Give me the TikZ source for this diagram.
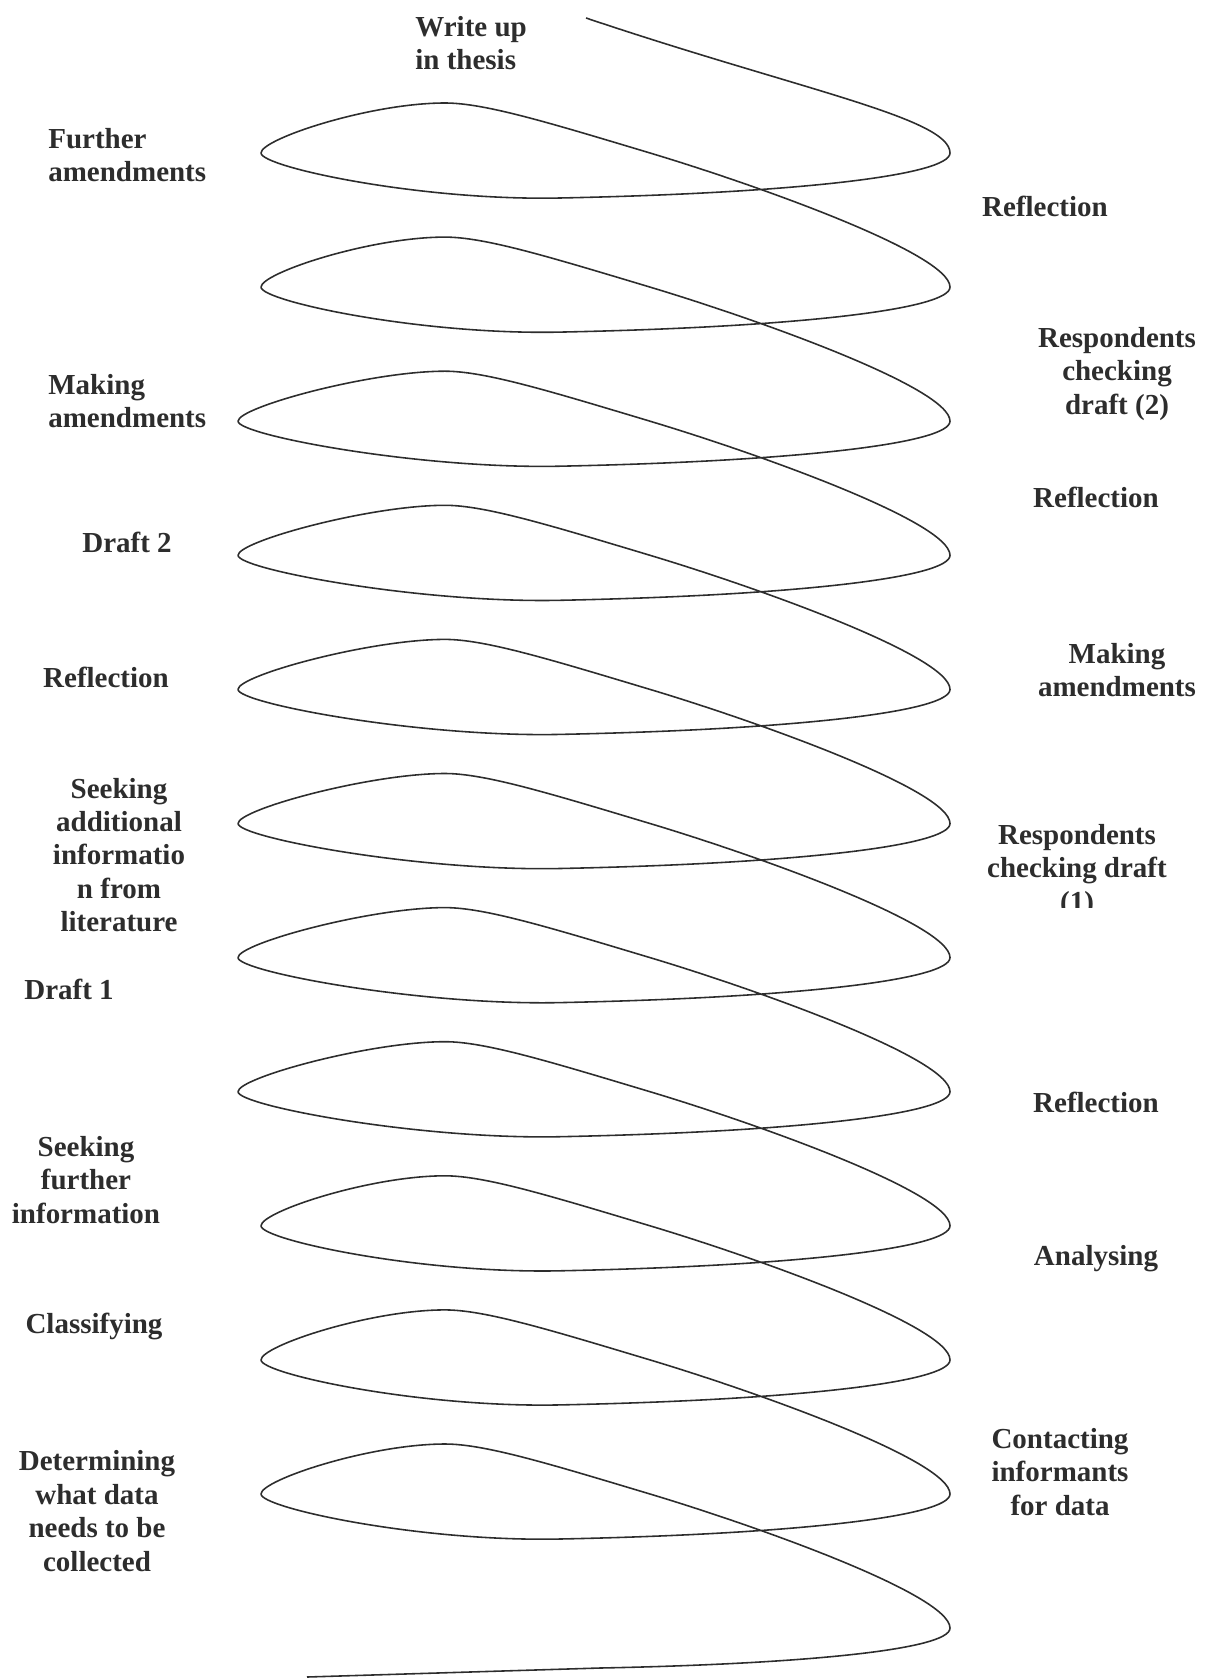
\documentclass[tikz,border=0pt]{standalone}
\usepackage{fontspec}
\setmainfont{Liberation Serif}
\usepackage{xcolor}
\usepackage{tikz}
\definecolor{inkgrey}{RGB}{45, 45, 45}

\begin{document}
\begin{tikzpicture}[
    x=0.02cm, y=-0.02cm,
    stage/.style={font=\fontsize{16.5}{19}\selectfont\bfseries, text=inkgrey, inner sep=0pt, align=center},
    stageleft/.style={stage, align=left, anchor=west},
    coil/.style={draw=inkgrey, line width=0.9pt, line join=round}
]
    \useasboundingbox (0,0) rectangle (1211,1679);

    % Coil
    \draw[coil] (586,18) .. controls (800,90) and (950,118) .. (950,153)
      \foreach \y/\l in {153/261, 287.1/261, 421.2/238, 555.3/238, 689.4/238, 823.5/238,
                         957.6/238, 1091.7/238, 1225.8/261, 1359.9/261, 1494/261} {
        .. controls (950,\y+22) and (800,\y+40) .. (560,\y+45)
        .. controls (420,\y+48) and (\l,\y+14) .. (\l,\y)
        .. controls (\l,\y-14) and (370,\y-50) .. (445,\y-50)
        .. controls (485,\y-50) and (550,\y-30) .. (650,\y)
        .. controls (750,\y+30) and (950,\y+100) .. (950,\y+134.1)
      }
      .. controls (950,1650) and (800,1664) .. (600,1668) -- (307,1677);

    % Stages, left side
    \node[stageleft] (wup) at (415,43) {Write up\\in thesis};
    \node[stageleft] (lf1) at (48,155) {Further\\amendments};
    \node[stageleft] (lf2) at (48,401) {Making\\amendments};
    \node[stage] (lf3) at (127,542) {Draft 2};
    \node[stage] (lf4) at (106,677) {Reflection};
    \node[stage] (lf5) at (119,855) {Seeking\\additional\\informatio\\n from\\literature};
    \node[stage] (lf6) at (69,989) {Draft 1};
    \node[stage] (lf7) at (86,1180) {Seeking\\further\\information};
    \node[stage] (lf8) at (94,1326) {Classifying};
    \node[stage] (lf9) at (97,1511) {Determining\\what data\\needs to be\\collected};

    % Stages, right side
    \node[stage] (rt1) at (1045,206) {Reflection};
    \node[stage] (rt2) at (1117,374) {Respondents\\checking\\draft (2)};
    \node[stage] (rt3) at (1096,497) {Reflection};
    \node[stage] (rt4) at (1117,670) {Making\\amendments};
    \begin{scope}
      \clip (960,800) rectangle (1211,907);
      \node[stage] (rt5) at (1077,871) {Respondents\\checking draft\\(1)};
    \end{scope}
    \node[stage] (rt6) at (1096,1102) {Reflection};
    \node[stage] (rt7) at (1096,1259) {Analysing};
    \node[stage] (rt8) at (1060,1472) {Contacting\\informants\\for data};
\end{tikzpicture}
\end{document}
